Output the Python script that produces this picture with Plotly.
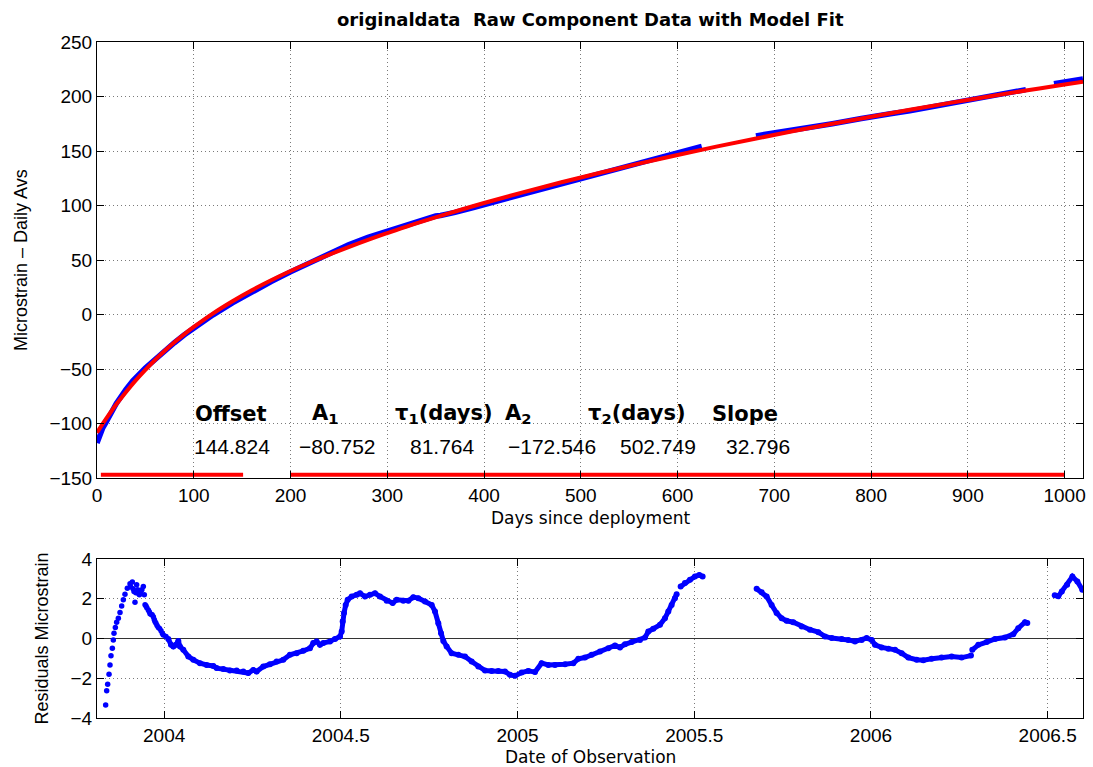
import plotly.graph_objects as go

# ---------------- data ----------------
fit_days = [0, 3, 6, 10, 15, 20, 30, 40, 50, 60, 70, 80, 90, 100, 120, 140, 160, 180, 200, 220,
            240, 260, 280, 300, 320, 360, 400, 440, 480, 520, 560, 600, 640, 680, 720, 760, 800,
            840, 880, 920, 960, 1000, 1019]
fit_vals = [-108.5, -104.3, -100.2, -94.9, -88.5, -82.4, -71.0, -60.4, -50.7, -41.7, -33.3, -25.5,
            -18.2, -11.4, 1.1, 12.2, 22.3, 31.4, 39.9, 47.7, 55.0, 61.9, 68.5, 74.7, 80.7, 91.8,
            102.3, 112.1, 121.3, 130.0, 138.4, 146.3, 154.0, 161.2, 168.3, 175.0, 181.5, 187.8,
            193.9, 199.8, 205.5, 211.0, 213.6]

data_days = [0, 3, 6, 9, 12, 20, 30, 37, 50, 60, 70, 80, 90, 100, 120, 140, 160, 180, 200, 220,
             240, 250, 253, 256, 260, 280, 300, 320, 335, 345, 350, 355, 360, 370, 390, 420, 435,
             460, 480, 520, 560, 580, 590, 600, 610, 620, 625, None, 681, 690, 700, 710, 730, 760,
             790, 800, 820, 840, 870, 895, 900, 903, 905, 920, 940, 955, 960, None, 989, 1000,
             1010, 1019]
data_vals = [-118, -109, -104, -99.5, -94.3, -81.6, -68.6, -60.8, -49.0, -40.8, -33.2, -25.9,
             -18.8, -12.5, -0.3, 10.6, 20.6, 30.2, 39.1, 47.3, 54.9, 58.6, 60.1, 62.2, 64.0, 70.7,
             76.6, 82.6, 86.9, 89.4, 90.3, 90.8, 91.5, 93.7, 98.4, 105.5, 109.1, 115.5, 120.0,
             129.4, 138.3, 143.1, 145.7, 148.6, 151.2, 153.4, 154.3, None, 163.9, 165.1, 166.1,
             167.5, 170.5, 175.0, 179.8, 181.5, 184.1, 186.8, 191.4, 195.1, 195.9, 196.4, 197.0,
             199.6, 202.7, 205.4, 206.3, None, 211.7, 213.5, 215.4, 216.0]

fitrange_days = [4, 151, None, 200, 1000]
fitrange_vals = [-147, -147, None, -147, -147]

param_names = ["<b>Offset</b>", "<b>A<sub>1</sub></b>", "<b>\u03c4<sub>1</sub>(days)</b>",
               "<b>A<sub>2</sub></b>", "<b>\u03c4<sub>2</sub>(days)</b>", "<b>Slope</b>"]
param_values = ["144.824", "\u221280.752", "81.764", "\u2212172.546", "502.749", "32.796"]
param_name_x = [138, 236, 359, 436, 558, 670]
param_value_x = [139, 249, 357, 470, 580, 683]
param_name_y = -91
param_value_y = -121

res_early_years = [2003.8345, 2003.8374, 2003.8402, 2003.8440, 2003.8468, 2003.8496, 2003.8534,
                   2003.8562, 2003.8581, 2003.8619, 2003.8656, 2003.8704, 2003.8751, 2003.8798,
                   2003.8845, 2003.8892, 2003.8958, 2003.9034, 2003.9050, 2003.9100, 2003.9120,
                   2003.9147, 2003.9175, 2003.9200, 2003.9222, 2003.9250, 2003.9269, 2003.9300,
                   2003.9335, 2003.9370, 2003.9411, 2003.9439, 2003.9460, 2003.9486, 2003.9510,
                   2003.9552, 2003.9580, 2003.9600, 2003.9628, 2003.9660, 2003.9694, 2003.9720,
                   2003.9740, 2003.9769, 2003.9800, 2003.9835, 2003.9870, 2003.9911, 2003.9950,
                   2003.9977, 2004.0052]
res_early_vals = [-3.34, -2.63, -2.30, -1.80, -1.33, -0.87, -0.49, -0.07, 0.27, 0.55, 0.82, 1.02,
                  1.31, 1.64, 1.95, 2.23, 2.53, 2.75, 2.60, 2.84, 2.50, 2.37, 1.83, 2.30, 2.70,
                  2.45, 2.28, 2.20, 2.37, 2.45, 2.62, 2.20, 1.70, 1.64, 1.55, 1.44, 1.35, 1.25,
                  1.22, 1.20, 1.10, 0.95, 0.85, 0.77, 0.65, 0.55, 0.50, 0.39, 0.25, 0.18, 0.10]

res_years = [2004.0118, 2004.0194, 2004.0260, 2004.0335, 2004.0401, 2004.0448, 2004.0542,
             2004.0684, 2004.0825, 2004.1014, 2004.1202, 2004.1391, 2004.1485, 2004.1674,
             2004.1862, 2004.2051, 2004.2240, 2004.2381, 2004.2523, 2004.2617, 2004.2806,
             2004.2994, 2004.3183, 2004.3371, 2004.3560, 2004.3749, 2004.3937, 2004.4126,
             2004.4220, 2004.4314, 2004.4409, 2004.4503, 2004.4693, 2004.4835, 2004.4976,
             2004.5024, 2004.5052, 2004.5090, 2004.5137, 2004.5193, 2004.5306, 2004.5448,
             2004.5542, 2004.5684, 2004.5825, 2004.5967, 2004.6108, 2004.6297, 2004.6466,
             2004.6579, 2004.6768, 2004.6910, 2004.7051, 2004.7192, 2004.7381, 2004.7570,
             2004.7664, 2004.7758, 2004.7834, 2004.7900, 2004.7994, 2004.8135, 2004.8324,
             2004.8513, 2004.8701, 2004.8890, 2004.9078, 2004.9267, 2004.9456, 2004.9644,
             2004.9786, 2004.9927, 2005.0116, 2005.0304, 2005.0493, 2005.0682, 2005.0870,
             2005.1059, 2005.1342, 2005.1578, 2005.1720, 2005.1908, 2005.2097, 2005.2333,
             2005.2568, 2005.2757, 2005.2898, 2005.3040, 2005.3228, 2005.3464, 2005.3606,
             2005.3700, 2005.3841, 2005.4030, 2005.4171, 2005.4266, 2005.4360, 2005.4454,
             2005.4502, None, 2005.4615, 2005.4737, 2005.4879, 2005.5020, 2005.5143, 2005.5237,
             None, 2005.6765, 2005.6906, 2005.7048, 2005.7189, 2005.7331, 2005.7472, 2005.7613,
             2005.7802, 2005.8040, 2005.8275, 2005.8511, 2005.8700, 2005.8888, 2005.9171,
             2005.9360, 2005.9548, 2005.9737, 2005.9878, 2006.0020, 2006.0114, 2006.0303,
             2006.0491, 2006.0680, 2006.0869, 2006.1057, 2006.1293, 2006.1482, 2006.1717,
             2006.2000, 2006.2283, 2006.2566, 2006.2830, None, 2006.2868, 2006.3038, 2006.3273,
             2006.3509, 2006.3792, 2006.4027, 2006.4169, 2006.4358, 2006.4424, None, 2006.5200,
             2006.5300, 2006.5400, 2006.5550, 2006.5700, 2006.5840, 2006.5980]
res_vals = [-0.02, -0.32, -0.40, -0.32, -0.12, -0.40, -0.57, -0.90, -1.07, -1.24, -1.33, -1.38,
            -1.49, -1.53, -1.61, -1.61, -1.66, -1.74, -1.58, -1.66, -1.41, -1.29, -1.16, -1.07,
            -0.82, -0.74, -0.62, -0.49, -0.23, -0.15, -0.32, -0.23, -0.15, -0.02, 0.10, 0.35,
            0.86, 1.28, 1.69, 1.95, 2.11, 2.20, 2.28, 2.11, 2.20, 2.28, 2.11, 1.90, 1.78, 1.95,
            1.90, 1.90, 2.08, 2.03, 1.86, 1.69, 1.36, 0.77, 0.27, -0.12, -0.40, -0.74, -0.82,
            -0.91, -1.16, -1.41, -1.61, -1.63, -1.63, -1.66, -1.83, -1.88, -1.71, -1.63, -1.69,
            -1.24, -1.33, -1.33, -1.29, -1.24, -1.02, -0.96, -0.82, -0.65, -0.49, -0.35, -0.45,
            -0.29, -0.18, -0.07, 0.05, 0.35, 0.49, 0.69, 1.02, 1.36, 1.69, 2.03, 2.23, None,
            2.62, 2.79, 2.95, 3.12, 3.20, 3.12, None, 2.50, 2.33, 2.11, 1.69, 1.28, 1.02, 0.89,
            0.82, 0.60, 0.44, 0.32, 0.10, 0.02, -0.02, -0.07, -0.15, -0.07, 0.02, -0.07, -0.32,
            -0.45, -0.52, -0.57, -0.74, -0.96, -1.07, -1.09, -1.02, -0.96, -0.91, -0.96, -0.86,
            None, -0.57, -0.32, -0.18, -0.02, 0.05, 0.22, 0.52, 0.82, 0.78, None, 2.17, 2.12,
            2.37, 2.70, 3.12, 2.87, 2.45]

assert len(fit_days) == len(fit_vals)
assert len(data_days) == len(data_vals)
assert len(res_early_years) == len(res_early_vals)
assert len(res_years) == len(res_vals)

top_xticks = [0, 100, 200, 300, 400, 500, 600, 700, 800, 900, 1000]
top_yticks = [-150, -100, -50, 0, 50, 100, 150, 200, 250]
bot_xticks = [2004, 2004.5, 2005, 2005.5, 2006, 2006.5]
bot_xticklabels = ["2004", "2004.5", "2005", "2005.5", "2006", "2006.5"]
bot_yticks = [-4, -2, 0, 2, 4]

# ---------------- figure ----------------
W, H = 1093, 767
FONT = "Liberation Sans, Arial, Helvetica, sans-serif"
WIDE = "DejaVu Sans, Verdana, sans-serif"
BLUE = "#0000ff"
RED = "#ff0000"

fig = go.Figure()

fig.add_trace(go.Scatter(x=data_days, y=data_vals, mode="lines",
                         line=dict(color=BLUE, width=5.5), connectgaps=False,
                         xaxis="x", yaxis="y", showlegend=False))
fig.add_trace(go.Scatter(x=fit_days, y=fit_vals, mode="lines", line=dict(color=RED, width=4),
                         line_shape="spline", xaxis="x", yaxis="y", showlegend=False))
fig.add_trace(go.Scatter(x=fitrange_days, y=fitrange_vals, mode="lines",
                         line=dict(color=RED, width=4), connectgaps=False,
                         xaxis="x", yaxis="y", showlegend=False))

fig.add_trace(go.Scatter(x=res_early_years, y=res_early_vals, mode="markers",
                         marker=dict(color=BLUE, size=5.5), xaxis="x2", yaxis="y2",
                         showlegend=False))
fig.add_trace(go.Scatter(x=res_years, y=res_vals, mode="lines+markers",
                         line=dict(color=BLUE, width=5), marker=dict(color=BLUE, size=6),
                         connectgaps=False, xaxis="x2", yaxis="y2", showlegend=False))

xdom = [97 / W, 1083 / W]
ytop = [1 - 478 / H, 1 - 42 / H]
ybot = [1 - 718 / H, 1 - 559 / H]

axis_common = dict(showline=True, linecolor="black", linewidth=1, mirror="allticks",
                   ticks="inside", ticklen=7, tickcolor="black", showgrid=True,
                   gridcolor="#7a7a7a", gridwidth=1, griddash="1px,3px", zeroline=False,
                   tickfont=dict(family=FONT, size=19, color="black"))

fig.update_layout(
    width=W, height=H, margin=dict(l=0, r=0, t=0, b=0),
    paper_bgcolor="white", plot_bgcolor="white", showlegend=False,
    xaxis=dict(domain=xdom, range=[0, 1019], tickvals=top_xticks, anchor="y",
               automargin=False, **axis_common),
    yaxis=dict(domain=ytop, range=[-150, 250], tickvals=top_yticks, anchor="x",
               automargin=False, **axis_common),
    xaxis2=dict(domain=xdom, range=[2003.81, 2006.6], tickvals=bot_xticks,
                ticktext=bot_xticklabels, anchor="y2", automargin=False, **axis_common),
    yaxis2=dict(domain=ybot, range=[-4, 4], tickvals=bot_yticks, anchor="x2",
                automargin=False, **axis_common),
)
fig.update_layout(yaxis2_zeroline=True, yaxis2_zerolinecolor="#333333", yaxis2_zerolinewidth=1)

annots = []
for name, x in zip(param_names, param_name_x):
    annots.append(dict(x=x, y=param_name_y, xref="x", yref="y", text=name, showarrow=False,
                       font=dict(family=WIDE, size=21, color="black"), xanchor="center",
                       yanchor="middle"))
for val, x in zip(param_values, param_value_x):
    annots.append(dict(x=x, y=param_value_y, xref="x", yref="y", text=val, showarrow=False,
                       font=dict(family=FONT, size=21, color="black"), xanchor="center",
                       yanchor="middle"))

annots += [
    dict(x=(xdom[0] + xdom[1]) / 2, y=1 - 20 / H, xref="paper", yref="paper",
         text="<b>originaldata\u00a0 Raw Component Data with Model Fit</b>", showarrow=False,
         font=dict(family=WIDE, size=18, color="black"), xanchor="center", yanchor="middle"),
    dict(x=(xdom[0] + xdom[1]) / 2, y=1 - 518 / H, xref="paper", yref="paper",
         text="Days since deployment", showarrow=False,
         font=dict(family=WIDE, size=17, color="black"), xanchor="center", yanchor="middle"),
    dict(x=(xdom[0] + xdom[1]) / 2, y=1 - 757 / H, xref="paper", yref="paper",
         text="Date of Observation", showarrow=False,
         font=dict(family=WIDE, size=17, color="black"), xanchor="center", yanchor="middle"),
    dict(x=21 / W, y=(ytop[0] + ytop[1]) / 2, xref="paper", yref="paper",
         text="Microstrain \u2013 Daily Avs", showarrow=False, textangle=-90,
         font=dict(family=FONT, size=18, color="black"), xanchor="center", yanchor="middle"),
    dict(x=41 / W, y=(ybot[0] + ybot[1]) / 2, xref="paper", yref="paper",
         text="Residuals Microstrain", showarrow=False, textangle=-90,
         font=dict(family=FONT, size=18, color="black"), xanchor="center", yanchor="middle"),
]
fig.update_layout(annotations=annots)

fig.write_html("out.html")
